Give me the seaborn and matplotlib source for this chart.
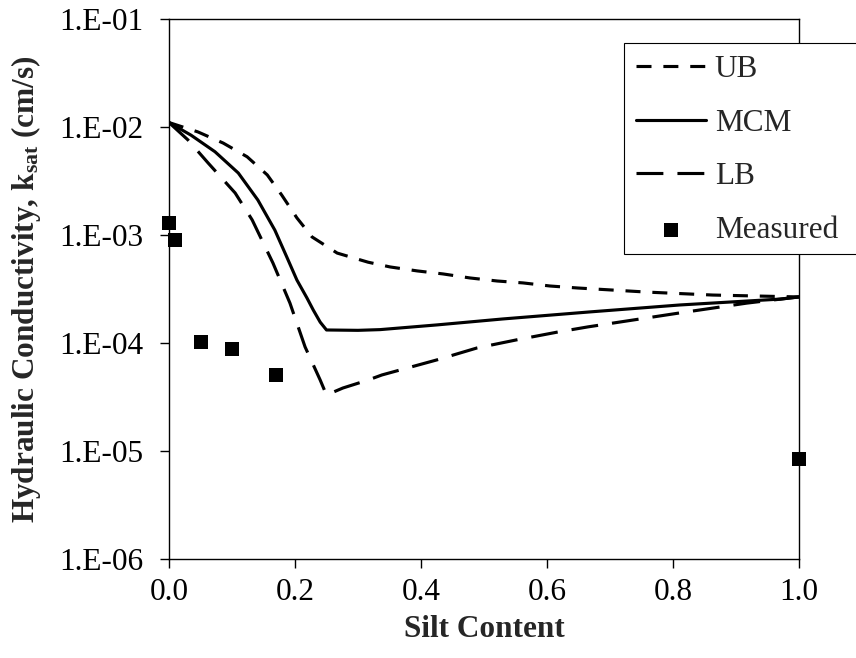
import matplotlib
matplotlib.use("Agg")
import matplotlib.pyplot as plt
from matplotlib.patches import Rectangle
from matplotlib.ticker import FixedLocator, FixedFormatter, NullLocator
import seaborn as sns

# Upper bound estimate
ub_x = [0.0, 0.046, 0.086, 0.124, 0.156, 0.179, 0.203, 0.227, 0.267, 0.316, 0.351,
        0.394, 0.435, 0.478, 0.521, 0.562, 0.605, 0.649, 0.759, 0.863, 1.0]
ub_k = [1.1e-2, 9.0e-3, 7.1e-3, 5.3e-3, 3.6e-3, 2.34e-3, 1.44e-3, 9.6e-4, 6.8e-4, 5.6e-4, 5.06e-4,
        4.65e-4, 4.36e-4, 4.0e-4, 3.75e-4, 3.6e-4, 3.37e-4, 3.23e-4, 2.96e-4, 2.78e-4, 2.67e-4]

# MCM prediction
mcm_x = [0.0, 0.035, 0.073, 0.110, 0.141, 0.168, 0.187, 0.203, 0.219, 0.229, 0.240,
         0.25, 0.30, 0.335, 0.425, 0.530, 0.668, 0.811, 0.970, 1.0]
mcm_k = [1.1e-2, 8.4e-3, 5.9e-3, 3.75e-3, 2.11e-3, 1.11e-3, 6.25e-4, 3.83e-4, 2.61e-4, 2.02e-4, 1.56e-4,
         1.32e-4, 1.31e-4, 1.33e-4, 1.47e-4, 1.67e-4, 1.94e-4, 2.25e-4, 2.55e-4, 2.67e-4]

# Lower bound estimate
lb_x = [0.0, 0.030, 0.062, 0.105, 0.132, 0.165, 0.192, 0.216, 0.240, 0.25, 0.276,
        0.316, 0.338, 0.425, 0.489, 0.552, 0.616, 0.665, 0.811, 0.917, 1.0]
lb_k = [1.1e-2, 7.6e-3, 4.65e-3, 2.45e-3, 1.38e-3, 5.5e-4, 2.34e-4, 9.2e-5, 4.54e-5, 3.3e-5, 3.83e-5,
        4.54e-5, 5.06e-5, 6.97e-5, 9.0e-5, 1.07e-4, 1.26e-4, 1.41e-4, 1.90e-4, 2.34e-4, 2.67e-4]

# Laboratory measurements
meas_x = [0.0, 0.01, 0.05, 0.10, 0.17, 1.0]
meas_k = [1.3e-3, 9.0e-4, 1.02e-4, 8.8e-5, 5.1e-5, 8.4e-6]

x_ticks = [0.0, 0.2, 0.4, 0.6, 0.8, 1.0]
x_tick_labels = ["0.0", "0.2", "0.4", "0.6", "0.8", "1.0"]
y_ticks = [1e-6, 1e-5, 1e-4, 1e-3, 1e-2, 1e-1]
y_tick_labels = ["1.E-06", "1.E-05", "1.E-04", "1.E-03", "1.E-02", "1.E-01"]

sns.set_theme(style="ticks")
plt.rcParams["font.family"] = ["Liberation Serif", "DejaVu Serif"]
plt.rcParams["mathtext.fontset"] = "custom"
plt.rcParams["mathtext.rm"] = "Liberation Serif"
plt.rcParams["mathtext.it"] = "Liberation Serif:italic"
plt.rcParams["mathtext.bf"] = "Liberation Serif:bold"

FS = 22.5
W, H = 856, 658
fig = plt.figure(figsize=(W / 100, H / 100), dpi=100)
ax = fig.add_axes([169 / W, 1 - 559 / H, 630 / W, 540 / H])

LW = 2.25
sns.lineplot(x=ub_x, y=ub_k, ax=ax, color="black", linewidth=LW, estimator=None,
             sort=False, label="UB")
ax.lines[-1].set_dashes((4.8, 3.8))
sns.lineplot(x=mcm_x, y=mcm_k, ax=ax, color="black", linewidth=LW, estimator=None,
             sort=False, label="MCM")
ax.lines[-1].set_solid_joinstyle("round")
sns.lineplot(x=lb_x, y=lb_k, ax=ax, color="black", linewidth=LW, estimator=None,
             sort=False, label="LB")
ax.lines[-1].set_dashes((8.6, 4.5))
sns.scatterplot(x=meas_x, y=meas_k, ax=ax, color="black", marker="s", s=112,
                linewidth=0, label="Measured", clip_on=False, zorder=5)

ax.set_yscale("log")
ax.set_xlim(0, 1)
ax.set_ylim(1e-6, 1e-1)
ax.xaxis.set_major_locator(FixedLocator(x_ticks))
ax.xaxis.set_major_formatter(FixedFormatter(x_tick_labels))
ax.yaxis.set_major_locator(FixedLocator(y_ticks))
ax.yaxis.set_major_formatter(FixedFormatter(y_tick_labels))
ax.yaxis.set_minor_locator(NullLocator())
ax.xaxis.set_minor_locator(NullLocator())

for s in ax.spines.values():
    s.set_visible(True)
    s.set_linewidth(1.0)
    s.set_color("black")
ax.tick_params(axis="both", which="major", direction="out", length=6.5, width=1.0,
               color="black", labelsize=FS, labelcolor="black")
ax.tick_params(axis="x", pad=7)
ax.tick_params(axis="y", pad=12)

ax.set_xlabel("Silt Content", fontsize=FS, fontweight="bold", labelpad=6)
ax.set_ylabel(r"Hydraulic Conductivity, k$_{\mathbf{sat}}$ (cm/s)", fontsize=FS,
              fontweight="bold", labelpad=12)

# Legend box: white panel running off the right edge of the figure
box = Rectangle((624 / W, 1 - 254 / H), (900 - 624) / W, (254 - 43) / H,
                transform=fig.transFigure, facecolor="white", edgecolor="black",
                linewidth=0.8, clip_on=False, zorder=4.9)
ax.add_patch(box)

handles, labels = ax.get_legend_handles_labels()
leg = ax.legend(handles, labels, loc="upper left",
                bbox_to_anchor=(624 / W, 1 - 43 / H), bbox_transform=fig.transFigure,
                fontsize=FS, frameon=False, borderpad=0.38, labelspacing=0.79,
                handlelength=2.25, handletextpad=0.27, borderaxespad=0,
                numpoints=1, scatterpoints=1)
leg.set_zorder(6)

fig.savefig("out.png", dpi=100, facecolor="white")
